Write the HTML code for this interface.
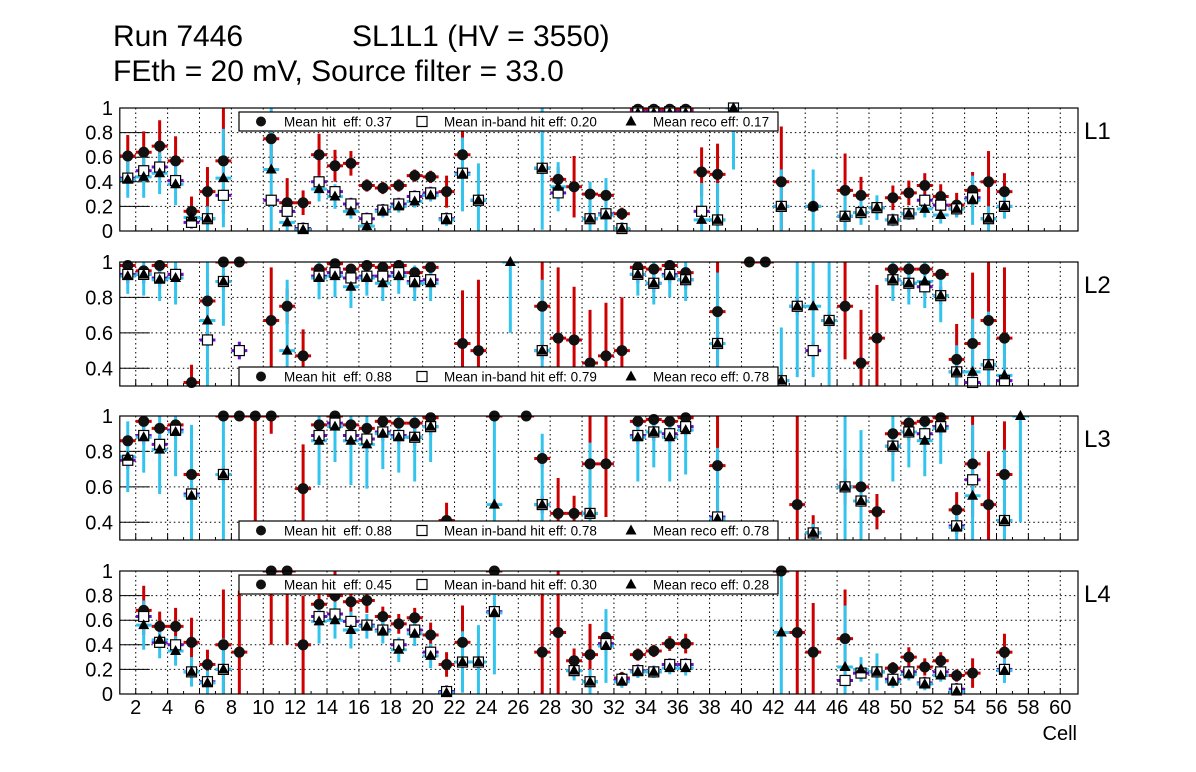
<!DOCTYPE html>
<html><head><meta charset="utf-8">
<style>
html,body{margin:0;padding:0;background:#fff;}
svg{display:block;font-family:"Liberation Sans",sans-serif;}
</style></head>
<body>
<svg id="chart" width="1196" height="772" viewBox="0 0 1196 772" xmlns="http://www.w3.org/2000/svg">
<rect x="0" y="0" width="1196" height="772" fill="#fff"/>
<text x="113" y="46" font-size="30">Run 7446</text>
<text x="352" y="46" font-size="30">SL1L1 (HV = 3550)</text>
<text x="113" y="81" font-size="30">FEth = 20 mV, Source filter = 33.0</text>
<g id="plots"></g>
</svg>
<script>
const p1Cells=[1.5,2.5,3.5,4.5,5.5,6.5,7.5,10.5,11.5,12.5,13.5,14.5,15.5,16.5,17.5,18.5,19.5,20.5,21.5,22.5,23.5,27.5,28.5,29.5,30.5,31.5,32.5,33.5,34.5,35.5,36.5,37.5,38.5,39.5,42.5,44.5,46.5,47.5,48.5,49.5,50.5,51.5,52.5,53.5,54.5,55.5,56.5];
const p1Hit=[.61,.64,.69,.57,.16,.32,.57,.75,.23,.23,.62,.53,.55,.37,.35,.37,.45,.44,.32,.62,.25,.51,.42,.36,.30,.29,.14,.99,.99,.99,.99,.48,.46,1.0,.40,.20,.33,.29,.19,.27,.31,.37,.28,.21,.33,.40,.32];
const p1Band=[.43,.49,.52,.41,.07,.10,.29,.25,.16,.02,.40,.32,.22,.10,.17,.22,.28,.31,.10,.47,.25,.51,.31,null,.10,.14,.02,.97,.97,.97,.97,.16,.09,1.0,.20,null,.12,.15,.19,.09,.14,.25,.21,.18,.27,.10,.20];
const p1Reco=[.42,.44,.47,.38,.11,.10,.43,.50,.07,.01,.34,.28,.16,.04,.16,.20,.24,.29,.09,.46,.25,.51,.36,null,.10,.13,.02,.96,.96,.96,.96,.09,.09,1.0,.20,.20,.12,.15,.19,.09,.14,.18,.13,.18,.25,.10,.20];
const p1HitErr=[.17,.17,.21,.2,.12,.2,.43,.2,.2,.1,.17,.13,.1,.05,.05,.05,.05,.05,.13,.2,.05,.05,.1,.25,.1,.1,.05,.05,.05,.05,.05,.2,.25,.02,.45,.05,.3,.15,.05,.1,.1,.1,.1,.1,.15,.25,.15];
const p1RecoErr=[.15,.17,.17,.17,.08,.1,.4,.5,.15,.02,.1,.1,.06,.05,.05,.05,.05,.05,.05,.3,.3,.5,.2,0,.3,.3,.05,.1,.1,.1,.1,.3,.3,.5,.3,.3,.2,.1,.1,.05,.05,.07,.07,.07,.2,.1,.1];

const p2Cells=[1.5,2.5,3.5,4.5,5.5,6.5,7.5,8.5,10.5,11.5,12.5,13.5,14.5,15.5,16.5,17.5,18.5,19.5,20.5,22.5,23.5,25.5,27.5,28.5,29.5,30.5,31.5,32.5,33.5,34.5,35.5,36.5,38.5,40.5,41.5,42.5,43.5,44.5,45.5,46.5,47.5,48.5,49.5,50.5,51.5,52.5,53.5,54.5,55.5,56.5];
const p2Hit=[.98,.95,.98,.93,.32,.78,1,1,.67,.75,.47,.96,.99,.96,.98,.97,.98,.94,.97,.54,.50,null,.75,.57,.56,.43,.47,.50,.97,.96,.98,.94,.72,1,1,null,null,null,null,.75,.43,.57,.96,.96,.96,.93,.45,.54,.67,.57];
const p2Band=[.93,.93,.91,.93,null,.56,.89,.50,null,null,null,.92,.94,.91,.92,.92,.94,.89,.90,null,null,null,.50,null,null,null,null,null,.93,.88,.93,.90,.54,null,null,.33,.75,.50,.67,null,null,null,.90,.88,.86,.81,.38,.32,.42,.33];
const p2Reco=[.92,.93,.90,.91,null,.67,.89,null,null,.50,null,.91,.92,.86,.91,.88,.92,.88,.88,null,null,1.0,.50,null,null,null,null,null,.93,.88,.92,.90,.54,null,null,.33,.75,.75,.67,null,null,null,.90,.88,.89,.81,.38,.38,.42,.36];
const p2HitErr=[.02,.03,.02,.04,.1,.03,.01,.01,.3,.1,.15,.03,.01,.03,.02,.02,.02,.03,.02,.3,.4,0,.3,.4,.3,.3,.3,.3,.02,.03,.02,.03,.35,.01,.01,0,0,0,0,.3,.3,.3,.02,.02,.02,.03,.2,.4,.4,.4];
const p2RecoErr=[.1,.12,.12,.15,0,.4,.25,.4,.4,.4,0,.12,.12,.12,.1,.1,.1,.1,.1,0,0,.4,.4,0,0,0,0,0,.12,.12,.12,.12,.4,.4,.4,.3,.4,.4,.4,0,0,0,.12,.12,.15,.15,.15,.3,.3,.2];

const p3Cells=[1.5,2.5,3.5,4.5,5.5,7.5,8.5,9.5,10.5,12.5,13.5,14.5,15.5,16.5,17.5,18.5,19.5,20.5,21.5,24.5,26.5,27.5,28.5,29.5,30.5,31.5,33.5,34.5,35.5,36.5,38.5,43.5,44.5,46.5,47.5,48.5,49.5,50.5,51.5,52.5,53.5,54.5,55.5,56.5,57.5];
const p3Hit=[.86,.97,.93,.95,.67,1,1,1,1,.59,.95,1,.95,.93,.97,.96,.96,.99,.41,1,1,.76,.45,.45,.73,.73,.97,.98,.97,.99,.72,.50,.34,.60,.60,.46,.90,.96,.97,.99,.47,.73,.50,.67,null];
const p3Band=[.75,.89,.84,.92,.56,.67,null,null,null,null,.89,.96,.89,.87,.91,.89,.88,.94,null,null,null,.50,null,null,.45,null,.89,.91,.90,.94,.43,null,.34,.60,.52,null,.83,.91,.90,.94,.38,.64,null,.41,null];
const p3Reco=[.77,.88,.81,.91,.55,.67,null,null,null,null,.86,.94,.86,.84,.90,.88,.88,.94,null,.50,null,.50,null,null,.45,null,.88,.91,.88,.92,.42,null,.34,.60,.52,null,.83,.91,.86,.93,.37,.55,null,.41,1.0];
const p3HitErr=[.03,.02,.02,.02,.03,.01,.01,.6,.1,.25,.02,.01,.03,.03,.02,.02,.02,.01,.1,.01,.01,.05,.2,.1,.3,.3,.02,.02,.02,.01,.4,.5,.1,.1,.1,.1,.03,.02,.02,.01,.1,.3,.3,.3,0];
const p3RecoErr=[.2,.2,.25,.25,.4,.4,.4,0,.4,0,.25,.2,.25,.25,.2,.2,.25,.2,0,.5,.5,.4,0,0,.4,0,.25,.2,.25,.25,.4,0,.05,.4,.4,0,.2,.2,.2,.2,.1,.4,0,.4,.6];

const p4Cells=[2.5,3.5,4.5,5.5,6.5,7.5,8.5,10.5,11.5,12.5,13.5,14.5,15.5,16.5,17.5,18.5,19.5,20.5,21.5,22.5,23.5,24.5,27.5,28.5,29.5,30.5,31.5,32.5,33.5,34.5,35.5,36.5,42.5,43.5,44.5,46.5,47.5,48.5,49.5,50.5,51.5,52.5,53.5,54.5,56.5];
const p4Hit=[.68,.55,.55,.42,.24,.40,.34,1,1,.40,.73,.80,.75,.76,.63,.57,.62,.48,.24,.42,.26,1,.34,.50,.27,.32,.46,.13,.32,.35,.41,.41,1,.50,.34,.45,.17,.18,.21,.30,.22,.27,.15,.17,.34];
const p4Band=[.63,.42,.40,.18,.10,.20,null,null,null,null,.63,.65,.59,.56,.52,.40,.52,.34,.02,.26,.26,.67,null,null,.19,.10,.41,.12,.19,.18,.24,.24,null,null,null,.11,.17,.18,.12,.18,.09,.18,.04,null,.20];
const p4Reco=[.56,.44,.35,.18,.09,.20,null,null,null,null,.59,.60,.52,.55,.51,.36,.49,.31,.01,.26,.26,.66,null,null,.19,.10,.39,.10,.18,.18,.21,.21,.50,null,null,.22,.20,.18,.10,.16,.08,.15,.02,null,.19];
const p4HitErr=[.2,.12,.15,.2,.12,.45,.5,.6,.6,.4,.1,.2,.1,.1,.08,.08,.08,.1,.1,.3,.05,.02,.5,.5,.1,.25,.15,.05,.05,.05,.06,.08,.02,.5,.4,.4,.05,.05,.05,.08,.07,.07,.05,.12,.15];
const p4RecoErr=[.2,.15,.12,.12,.1,.25,0,0,0,0,.18,.15,.15,.1,.1,.1,.1,.1,.02,.25,.3,.5,0,0,.08,.1,.3,.05,.05,.05,.05,.06,.5,0,0,.5,.1,.15,.05,.05,.05,.05,.05,0,.1];

const layerNames=["L1","L2","L3","L4"];
const meanHit=["0.37","0.88","0.88","0.45"];
const meanBand=["0.20","0.79","0.78","0.30"];
const meanReco=["0.17","0.78","0.78","0.28"];
const yTicks01=[0,0.2,0.4,0.6,0.8,1];
const yTicks03=[0.4,0.6,0.8,1];
const yTickLabels01=["0","0.2","0.4","0.6","0.8","1"];
const yTickLabels03=["0.4","0.6","0.8","1"];
const xTickCells=[2,4,6,8,10,12,14,16,18,20,22,24,26,28,30,32,34,36,38,40,42,44,46,48,50,52,54,56,58,60];

const NS="http://www.w3.org/2000/svg";
const root=document.getElementById("plots");
const X0=119.8, PX=15.94, XR=1078;
function xs(c){return X0+(c-1)*PX;}
function mk(tag,attrs,parent){const e=document.createElementNS(NS,tag);for(const k in attrs)e.setAttribute(k,attrs[k]);parent.appendChild(e);return e;}

const panels=[
 {top:108,bot:231,ymin:0,ymax:1,ticks:yTicks01,labels:yTickLabels01,legY:112,c:p1Cells,h:p1Hit,b:p1Band,r:p1Reco,he:p1HitErr,re:p1RecoErr},
 {top:262,bot:386,ymin:0.3,ymax:1.0,ticks:yTicks03,labels:yTickLabels03,legY:367,c:p2Cells,h:p2Hit,b:p2Band,r:p2Reco,he:p2HitErr,re:p2RecoErr},
 {top:416,bot:540,ymin:0.3,ymax:1.0,ticks:yTicks03,labels:yTickLabels03,legY:521,c:p3Cells,h:p3Hit,b:p3Band,r:p3Reco,he:p3HitErr,re:p3RecoErr},
 {top:571,bot:694,ymin:0,ymax:1,ticks:yTicks01,labels:yTickLabels01,legY:575,c:p4Cells,h:p4Hit,b:p4Band,r:p4Reco,he:p4HitErr,re:p4RecoErr}
];

panels.forEach((p,pi)=>{
  const g=mk("g",{},root);
  
  
  const ys=v=>p.bot-(v-p.ymin)/(p.ymax-p.ymin)*(p.bot-p.top);
  const clipId="clip"+pi;
  const cp=mk("clipPath",{id:clipId},g);
  mk("rect",{x:X0,y:p.top,width:XR-X0,height:p.bot-p.top},cp);
  const grid=mk("g",{stroke:"#000","stroke-width":1,"stroke-dasharray":"1.5,3"},g);
  
  
  xTickCells.forEach(c=>{mk("line",{x1:xs(c),x2:xs(c),y1:p.top,y2:p.bot},grid);});
  p.ticks.forEach(t=>{if(t>p.ymin&&t<p.ymax)mk("line",{x1:X0,x2:XR,y1:ys(t),y2:ys(t)},grid);});
  p.ticks.forEach((t,i)=>{
    const y=ys(t);
    const tl=mk("line",{x1:X0,x2:X0+30,y1:y,y2:y,stroke:"#000","stroke-width":1},g);
    
    
    const tx=mk("text",{x:113,y:y+7,"font-size":20,"text-anchor":"end"},g);
    
    
    tx.textContent=p.labels[i];
  });
  for(let c=2;c<=60;c++){
    const len=(c%2===0)?6:3;
    const t=mk("line",{x1:xs(c),x2:xs(c),y1:p.bot,y2:p.bot-len,stroke:"#000","stroke-width":1},g);
    
    
  }
  const eb=mk("g",{"clip-path":"url(#"+clipId+")","stroke-width":3},g);
  
  
  const hw=0.5;
  p.c.forEach((c,i)=>{
    const x=xs(c);
    if(p.h[i]!=null){
      const l1=mk("line",{x1:x,x2:x,y1:ys(p.h[i]-p.he[i]),y2:ys(Math.min(1,p.h[i]+p.he[i])),stroke:"#cc0000"},eb);
      
      
      const l2=mk("line",{x1:xs(c-hw),x2:xs(c+hw),y1:ys(p.h[i]),y2:ys(p.h[i]),stroke:"#cc0000"},eb);
      
      
    }
  });
  p.c.forEach((c,i)=>{
    const x=xs(c);
    if(p.b[i]!=null){
      const l1=mk("line",{x1:x,x2:x,y1:ys(p.b[i]-0.05),y2:ys(Math.min(1,p.b[i]+0.05)),stroke:"#6a0dcc"},eb);
      
      
      const l2=mk("line",{x1:xs(c-hw),x2:xs(c+hw),y1:ys(p.b[i]),y2:ys(p.b[i]),stroke:"#6a0dcc"},eb);
      
      
    }
  });
  p.c.forEach((c,i)=>{
    const x=xs(c);
    if(p.r[i]!=null){
      const l1=mk("line",{x1:x,x2:x,y1:ys(p.r[i]-p.re[i]),y2:ys(Math.min(1,p.r[i]+p.re[i])),stroke:"#33c4ee"},eb);
      
      
      const l2=mk("line",{x1:xs(c-hw),x2:xs(c+hw),y1:ys(p.r[i]),y2:ys(p.r[i]),stroke:"#33c4ee"},eb);
      
      
    }
  });
  const mg=mk("g",{},g);
  
  
  p.c.forEach((c,i)=>{
    const x=xs(c);
    if(p.h[i]!=null&&p.h[i]>=p.ymin-0.01){
      const m=mk("circle",{cx:x,cy:ys(p.h[i]),r:5.5,fill:"#111"},mg);
      
      
    }
    if(p.b[i]!=null&&p.b[i]>=p.ymin-0.01){
      const m=mk("rect",{x:x-5,y:ys(p.b[i])-5,width:10,height:10,fill:"#fff",stroke:"#000","stroke-width":1.2},mg);
      
      
    }
    if(p.r[i]!=null&&p.r[i]>=p.ymin-0.01){
      const y=ys(p.r[i]);
      const m=mk("polygon",{points:`${x},${y-6} ${x-5.5},${y+4} ${x+5.5},${y+4}`,fill:"#000"},mg);
      
      
    }
  });
  const fr=mk("rect",{x:X0,y:p.top,width:XR-X0,height:p.bot-p.top,fill:"none",stroke:"#000","stroke-width":1.2},g);
  
  
  const ll=mk("text",{x:1084,y:p.top+31,"font-size":24},g);
  
  
  ll.textContent=layerNames[pi];
  const lg=mk("g",{},g);
  
  
  const ly=p.legY, lh=19;
  mk("rect",{x:239,y:ly,width:539,height:lh,fill:"#fff",stroke:"#000","stroke-width":1.2},lg);
  const cy=ly+lh/2;
  const e1=mk("circle",{cx:261,cy:cy,r:5,fill:"#111"},lg);
  
  
  const t1=mk("text",{x:284,y:cy+5,"font-size":13.5},lg);
  
  
  t1.textContent="Mean hit\u00a0\u00a0eff: "+meanHit[pi];
  const e2=mk("rect",{x:417,y:cy-5,width:10,height:10,fill:"#fff",stroke:"#000","stroke-width":1.2},lg);
  
  
  const t2=mk("text",{x:444,y:cy+5,"font-size":13.5},lg);
  
  
  t2.textContent="Mean in-band hit eff: "+meanBand[pi];
  const e3=mk("polygon",{points:`631,${cy-6} 625.5,${cy+4} 636.5,${cy+4}`,fill:"#000"},lg);
  
  
  const t3=mk("text",{x:653,y:cy+5,"font-size":13.5},lg);
  
  
  t3.textContent="Mean reco eff: "+meanReco[pi];
});
xTickCells.forEach(c=>{
  const t=mk("text",{x:xs(c),y:714,"font-size":20,"text-anchor":"middle"},root);
  
  
  t.textContent=String(c);
});
const xt=mk("text",{x:1077,y:740,"font-size":20,"text-anchor":"end"},root);


xt.textContent="Cell";
</script>
</body></html>
